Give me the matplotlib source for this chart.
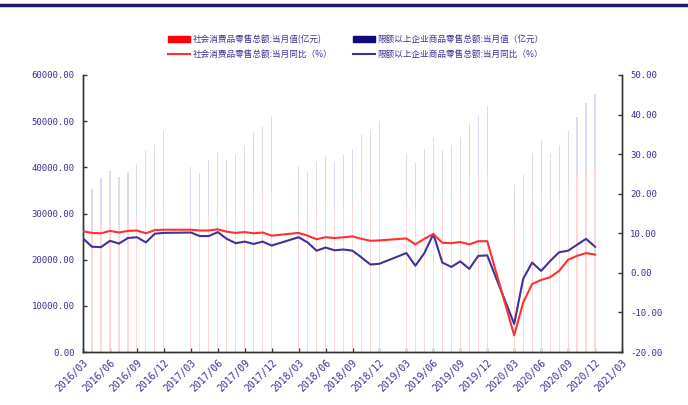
import numpy as np
import matplotlib
matplotlib.use("Agg")
import matplotlib.pyplot as plt
from matplotlib.patches import Patch
from matplotlib.lines import Line2D

plt.rcParams['font.family'] = ['Noto Sans CJK SC', 'DejaVu Sans']

# months with data (Jan/Feb not published separately)
months = [
    "2016/03", "2016/04", "2016/05", "2016/06", "2016/07", "2016/08", "2016/09", "2016/10", "2016/11", "2016/12",
    "2017/03", "2017/04", "2017/05", "2017/06", "2017/07", "2017/08", "2017/09", "2017/10", "2017/11", "2017/12",
    "2018/03", "2018/04", "2018/05", "2018/06", "2018/07", "2018/08", "2018/09", "2018/10", "2018/11", "2018/12",
    "2019/03", "2019/04", "2019/05", "2019/06", "2019/07", "2019/08", "2019/09", "2019/10", "2019/11", "2019/12",
    "2020/03", "2020/04", "2020/05", "2020/06", "2020/07", "2020/08", "2020/09", "2020/10", "2020/11", "2020/12",
]

# 社会消费品零售总额:当月值(亿元)
retail = [
    26405, 25660, 27540, 27864, 26827, 27539, 28966, 31119, 30959, 31757,
    27864, 27278, 29459, 29808, 28611, 29398, 31252, 33833, 34108, 34734,
    29194, 28542, 30359, 31544, 30734, 31542, 32005, 35534, 35260, 35893,
    31726, 30586, 32956, 33878, 33073, 33896, 34495, 38104, 38094, 38777,
    26450, 28178, 31973, 33526, 32203, 33571, 35295, 38576, 39514, 40566,
]

# 限额以上企业商品零售总额:当月值(亿元)
above_quota = [
    10100, 9580, 10220, 11280, 11150, 11450, 11750, 12630, 13940, 16040,
    12210, 11560, 12130, 13440, 12980, 13340, 13370, 13890, 14910, 16390,
    11170, 10520, 10800, 10990, 10640, 11060, 12040, 11690, 12890, 14210,
    11300, 10420, 10940, 12400, 10620, 10940, 12080, 11500, 13100, 14440,
    9650, 10160, 11060, 12390, 10690, 11270, 12580, 12250, 14360, 15250,
]

# 当月同比(%)
retail_yoy = [
    10.5, 10.1, 10.0, 10.6, 10.2, 10.6, 10.7, 10.0, 10.8, 10.9,
    10.9, 10.7, 10.7, 11.0, 10.4, 10.1, 10.3, 10.0, 10.2, 9.4,
    10.1, 9.4, 8.5, 9.0, 8.8, 9.0, 9.2, 8.6, 8.1, 8.2,
    8.7, 7.2, 8.6, 9.8, 7.6, 7.5, 7.8, 7.2, 8.0, 8.0,
    -15.8, -7.5, -2.8, -1.8, -1.1, 0.5, 3.3, 4.3, 5.0, 4.6,
]
above_yoy = [
    8.7, 6.6, 6.5, 8.1, 7.4, 8.8, 9.0, 7.7, 9.9, 10.1,
    10.2, 9.3, 9.3, 10.3, 8.6, 7.5, 7.9, 7.3, 7.9, 6.9,
    9.0, 7.7, 5.6, 6.4, 5.7, 5.9, 5.6, 3.9, 2.1, 2.3,
    5.0, 1.8, 5.0, 9.8, 2.6, 1.5, 2.9, 1.0, 4.3, 4.4,
    -12.9, -1.5, 2.6, 0.5, 3.0, 5.2, 5.6, 7.1, 8.6, 6.6,
]

tick_labels = ["%d/%02d" % (y, m) for y in range(2016, 2022) for m in (3, 6, 9, 12)][:21]


def month_pos(s):
    y, m = s.split("/")
    return (int(y) - 2016) * 12 + int(m) - 3


x = np.array([month_pos(s) for s in months])
xt = [month_pos(s) for s in tick_labels]

txt_color = '#3a2f96'

fig = plt.figure(figsize=(6.88, 4.05), dpi=100)
ax = fig.add_axes([83 / 688, 1 - 352 / 405, (622 - 83) / 688, (352 - 75) / 405])
ax2 = ax.twinx()

ax.bar(x, retail, width=0.13, color='#ffd6d6', zorder=2)
ax.bar(x, above_quota, bottom=retail, width=0.13, color='#dcdcf0', zorder=2)

ax2.plot(x, retail_yoy, color='#ff3030', lw=1.5, zorder=4)
ax2.plot(x, above_yoy, color='#3d3399', lw=1.5, zorder=3)

ax.set_xlim(0, 60)
ax.set_ylim(0, 60000)
ax.set_yticks(np.arange(0, 60001, 10000))
ax.set_yticklabels(["%.2f" % v for v in np.arange(0, 60001, 10000)])
ax2.set_ylim(-20, 50)
ax2.set_yticks(np.arange(-20, 51, 10))
ax2.set_yticklabels(["%.2f" % v for v in np.arange(-20, 51, 10)])

ax.set_xticks(xt)
ax.set_xticklabels(tick_labels, rotation=45, ha='right', va='top', rotation_mode='anchor')

for a in (ax, ax2):
    a.spines['top'].set_visible(False)
    for s in ('left', 'right', 'bottom'):
        a.spines[s].set_color('#333333')
        a.spines[s].set_linewidth(1.0)
    a.tick_params(direction='in', length=3, width=1, color='#333333', labelcolor=txt_color)

for lab in ax.get_yticklabels() + ax2.get_yticklabels():
    lab.set_family('DejaVu Sans Mono')
    lab.set_fontsize(6.5)
for lab in ax.get_xticklabels():
    lab.set_family('DejaVu Sans Mono')
    lab.set_fontsize(7)
ax.tick_params(axis='y', pad=6)
ax2.tick_params(axis='y', pad=6)
ax.tick_params(axis='x', pad=4)

handles = [
    Patch(color='#ff0000'),
    Line2D([], [], color='#ff3030', lw=1.5),
    Patch(color='#100a78'),
    Line2D([], [], color='#3d3399', lw=1.5),
]
labels = [
    "社会消费品零售总额:当月值(亿元)",
    "社会消费品零售总额:当月同比（%）",
    "限额以上企业商品零售总额:当月值（亿元）",
    "限额以上企业商品零售总额:当月同比（%）",
]
fig.legend(handles, labels, ncol=2, loc='center', bbox_to_anchor=(0.517, 0.885),
           frameon=False, fontsize=6.2, labelcolor=txt_color, handlelength=2.6,
           handleheight=0.8, columnspacing=2.4, labelspacing=0.7, handletextpad=0.25)

# decorative rule at top
fig.add_artist(Line2D([0, 1], [0.988, 0.988], transform=fig.transFigure, color='#1c1c6e', lw=2.5))

fig.savefig("out.png", dpi=100)
